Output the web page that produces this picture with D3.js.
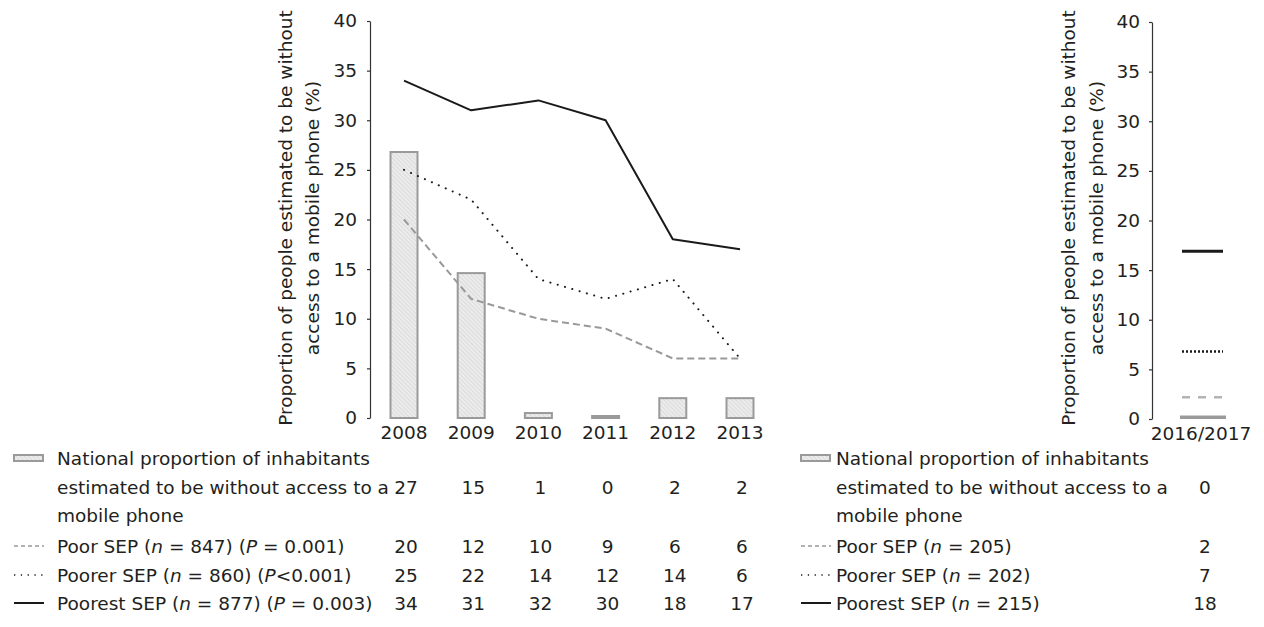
<!DOCTYPE html>
<html>
<head>
<meta charset="utf-8">
<script src="https://cdn.jsdelivr.net/npm/d3@7"></script>
<style>
  html, body { margin: 0; padding: 0; background: #fff; }
  svg { display: block; font-family: "DejaVu Sans", "Liberation Sans", Arial, sans-serif; }
  text { fill: #231f20; }
</style>
</head>
<body>
<svg id="chart" width="1264" height="627"></svg>
<script>
// ---------- DATA ----------
const years = ["2008", "2009", "2010", "2011", "2012", "2013"];
const nationalBar = [26.8, 14.6, 0.5, 0.2, 2.0, 2.0];
const nationalTable = [27, 15, 1, 0, 2, 2];
const poorSEP = [20, 12, 10, 9, 6, 6];
const poorerSEP = [25, 22, 14, 12, 14, 6];
const poorestSEP = [34, 31, 32, 30, 18, 17];

const rightCategory = ["2016/2017"];
const rightNationalBar = [0.15];
const rightPoor = [2.2];
const rightPoorer = [6.8];
const rightPoorest = [16.9];
const rightTable = [0, 2, 7, 18]; // national, poor, poorer, poorest

const yTicks = [0, 5, 10, 15, 20, 25, 30, 35, 40];
const yTitle = ["Proportion of people estimated to be without", "access to a mobile phone (%)"];
const nationalLabel = ["National proportion of inhabitants", "estimated to be without access to a", "mobile phone"];
const leftSeriesLabels = [
  ["Poor SEP (", ["n", true], " = 847) (", ["P", true], " = 0.001)"],
  ["Poorer SEP (", ["n", true], " = 860) (", ["P", true], "<0.001)"],
  ["Poorest SEP (", ["n", true], " = 877) (", ["P", true], " = 0.003)"]
];
const rightSeriesLabels = [
  ["Poor SEP (", ["n", true], " = 205)"],
  ["Poorer SEP (", ["n", true], " = 202)"],
  ["Poorest SEP (", ["n", true], " = 215)"]
];

// ---------- STYLE ----------
const FS = 18.5;
const FF = '"DejaVu Sans", "Liberation Sans", Arial, sans-serif';
const textColor = "#231f20";
const barStroke = "#9a9a9a";
const styles = {
  poor: { stroke: "#999999", width: 2, dash: "7,4", cap: "butt" },
  poorer: { stroke: "#1a1a1a", width: 2, dash: "0.1,7.5", cap: "round" },
  poorest: { stroke: "#1a1a1a", width: 2, dash: null, cap: "butt" }
};

const svg = d3.select("#chart");
const defs = svg.append("defs");
const pat = defs.append("pattern")
  .attr("id", "hatch").attr("patternUnits", "userSpaceOnUse")
  .attr("width", 3).attr("height", 3)
  .attr("patternTransform", "rotate(-45)");
pat.append("rect").attr("width", 3).attr("height", 3).attr("fill", "#ececec");
pat.append("line").attr("x1", 0).attr("y1", 0).attr("x2", 0).attr("y2", 3)
  .attr("stroke", "#d0d0d0").attr("stroke-width", 1.2);

function styleAxis(g) {
  g.select(".domain").attr("stroke", "#333").attr("stroke-width", 1.2);
  g.selectAll(".tick line").attr("stroke", "#333").attr("stroke-width", 1.2);
  g.selectAll(".tick text").attr("font-size", FS).attr("fill", textColor)
    .attr("font-family", FF);
}

function yAxisTitle(cx1, cx2, cy) {
  [cx1, cx2].forEach((cx, i) => {
    svg.append("text")
      .attr("transform", `translate(${cx},${cy}) rotate(-90)`)
      .attr("text-anchor", "middle")
      .attr("dominant-baseline", "central")
      .attr("font-size", FS)
      .text(yTitle[i]);
  });
}

// ---------- LEFT CHART ----------
const yL = d3.scaleLinear().domain([0, 40]).range([418, 21]);
const xL = d3.scalePoint().domain(years).range([404, 740]);
const barW = 27;

const gyL = svg.append("g").attr("transform", "translate(370,0)")
  .call(d3.axisLeft(yL).tickValues(yTicks).tickSize(3).tickSizeOuter(0).tickPadding(10));
styleAxis(gyL);

yAxisTitle(285, 312, 218);

svg.append("g").selectAll("rect").data(years).join("rect")
  .attr("x", d => xL(d) - barW / 2)
  .attr("y", (d, i) => yL(nationalBar[i]))
  .attr("width", barW)
  .attr("height", (d, i) => yL(0) - yL(nationalBar[i]))
  .attr("fill", "url(#hatch)")
  .attr("stroke", barStroke).attr("stroke-width", 2);

// x labels
svg.append("g").selectAll("text").data(years).join("text")
  .attr("x", d => xL(d)).attr("y", 439)
  .attr("text-anchor", "middle").attr("font-size", FS).text(d => d);

function drawLine(vals, st) {
  const line = d3.line().x((d, i) => xL(years[i])).y(d => yL(d));
  svg.append("path").datum(vals).attr("d", line)
    .attr("fill", "none").attr("stroke", st.stroke).attr("stroke-width", st.width)
    .attr("stroke-dasharray", st.dash).attr("stroke-linecap", st.cap)
    .attr("stroke-linejoin", "round");
}
drawLine(poorSEP, styles.poor);
drawLine(poorerSEP, styles.poorer);
drawLine(poorestSEP, styles.poorest);

// ---------- RIGHT CHART ----------
const yR = d3.scaleLinear().domain([0, 40]).range([419, 22]);
const xR = d3.scaleBand().domain(rightCategory).range([1181, 1225]);

const gyR = svg.append("g").attr("transform", "translate(1152,0)")
  .call(d3.axisLeft(yR).tickValues(yTicks).tickSize(3).tickSizeOuter(0).tickPadding(9));
styleAxis(gyR);

yAxisTitle(1068, 1096, 218);

svg.append("g").selectAll("rect").data(rightCategory).join("rect")
  .attr("x", d => xR(d))
  .attr("y", (d, i) => yR(rightNationalBar[i]) - 1)
  .attr("width", xR.bandwidth())
  .attr("height", (d, i) => Math.max(1, yR(0) - yR(rightNationalBar[i])))
  .attr("fill", "#9a9a9a").attr("stroke", "#9a9a9a").attr("stroke-width", 2);

svg.append("g").selectAll("text").data(rightCategory).join("text")
  .attr("x", d => xR(d) + xR.bandwidth() / 2 - 2).attr("y", 440)
  .attr("text-anchor", "middle").attr("font-size", FS).text(d => d);

const rightMarks = [
  { v: rightPoor, stroke: "#b3b3b3", w: 2.5, dash: "8,8", cap: "butt" },
  { v: rightPoorer, stroke: "#1a1a1a", w: 2.5, dash: "2,2", cap: "butt" },
  { v: rightPoorest, stroke: "#1a1a1a", w: 3, dash: null, cap: "butt" }
];
rightMarks.forEach(m => {
  svg.append("g").selectAll("line").data(rightCategory).join("line")
    .attr("x1", d => xR(d) + 1).attr("x2", d => xR(d) + xR.bandwidth() - 2)
    .attr("y1", (d, i) => yR(m.v[i])).attr("y2", (d, i) => yR(m.v[i]))
    .attr("stroke", m.stroke).attr("stroke-width", m.w)
    .attr("stroke-dasharray", m.dash).attr("stroke-linecap", m.cap);
});

// ---------- LEGEND TABLES ----------
const rowY = [458, 487, 515, 546, 575, 603];

function richText(x, y, parts) {
  const t = svg.append("text").attr("x", x).attr("y", y)
    .attr("dominant-baseline", "central").attr("font-size", FS);
  parts.forEach(p => {
    if (Array.isArray(p)) t.append("tspan").attr("font-style", "italic").text(p[0]);
    else t.append("tspan").text(p);
  });
}

function legendBlock(x0, textX, seriesLabels) {
  svg.append("rect").attr("x", x0).attr("y", rowY[0] - 3).attr("width", 29).attr("height", 6)
    .attr("fill", "url(#hatch)").attr("stroke", barStroke).attr("stroke-width", 2);
  nationalLabel.forEach((l, i) => {
    svg.append("text").attr("x", textX).attr("y", rowY[i])
      .attr("dominant-baseline", "central").attr("font-size", FS).text(l);
  });
  const syms = [styles.poor, styles.poorer, styles.poorest];
  syms.forEach((st, i) => {
    svg.append("line").attr("x1", x0).attr("x2", x0 + 30)
      .attr("y1", rowY[3 + i]).attr("y2", rowY[3 + i])
      .attr("stroke", st.stroke).attr("stroke-width", i === 2 ? 2 : 1.3)
      .attr("stroke-dasharray", i === 0 ? "4,3" : (i === 1 ? "1.3,5.5" : null));
    richText(textX, rowY[3 + i], seriesLabels[i]);
  });
}

legendBlock(14, 57, leftSeriesLabels);
legendBlock(801, 836, rightSeriesLabels);

// table values left
const leftRows = [
  { vals: nationalTable, y: rowY[1] },
  { vals: poorSEP, y: rowY[3] },
  { vals: poorerSEP, y: rowY[4] },
  { vals: poorestSEP, y: rowY[5] }
];
leftRows.forEach(r => {
  svg.append("g").selectAll("text").data(years).join("text")
    .attr("x", d => xL(d) + 2).attr("y", r.y)
    .attr("text-anchor", "middle").attr("dominant-baseline", "central")
    .attr("font-size", FS)
    .text((d, i) => r.vals[i]);
});

// table values right
[rowY[1], rowY[3], rowY[4], rowY[5]].forEach((y, i) => {
  svg.append("text").attr("x", 1205).attr("y", y)
    .attr("text-anchor", "middle").attr("dominant-baseline", "central")
    .attr("font-size", FS).text(rightTable[i]);
});
</script>
</body>
</html>
